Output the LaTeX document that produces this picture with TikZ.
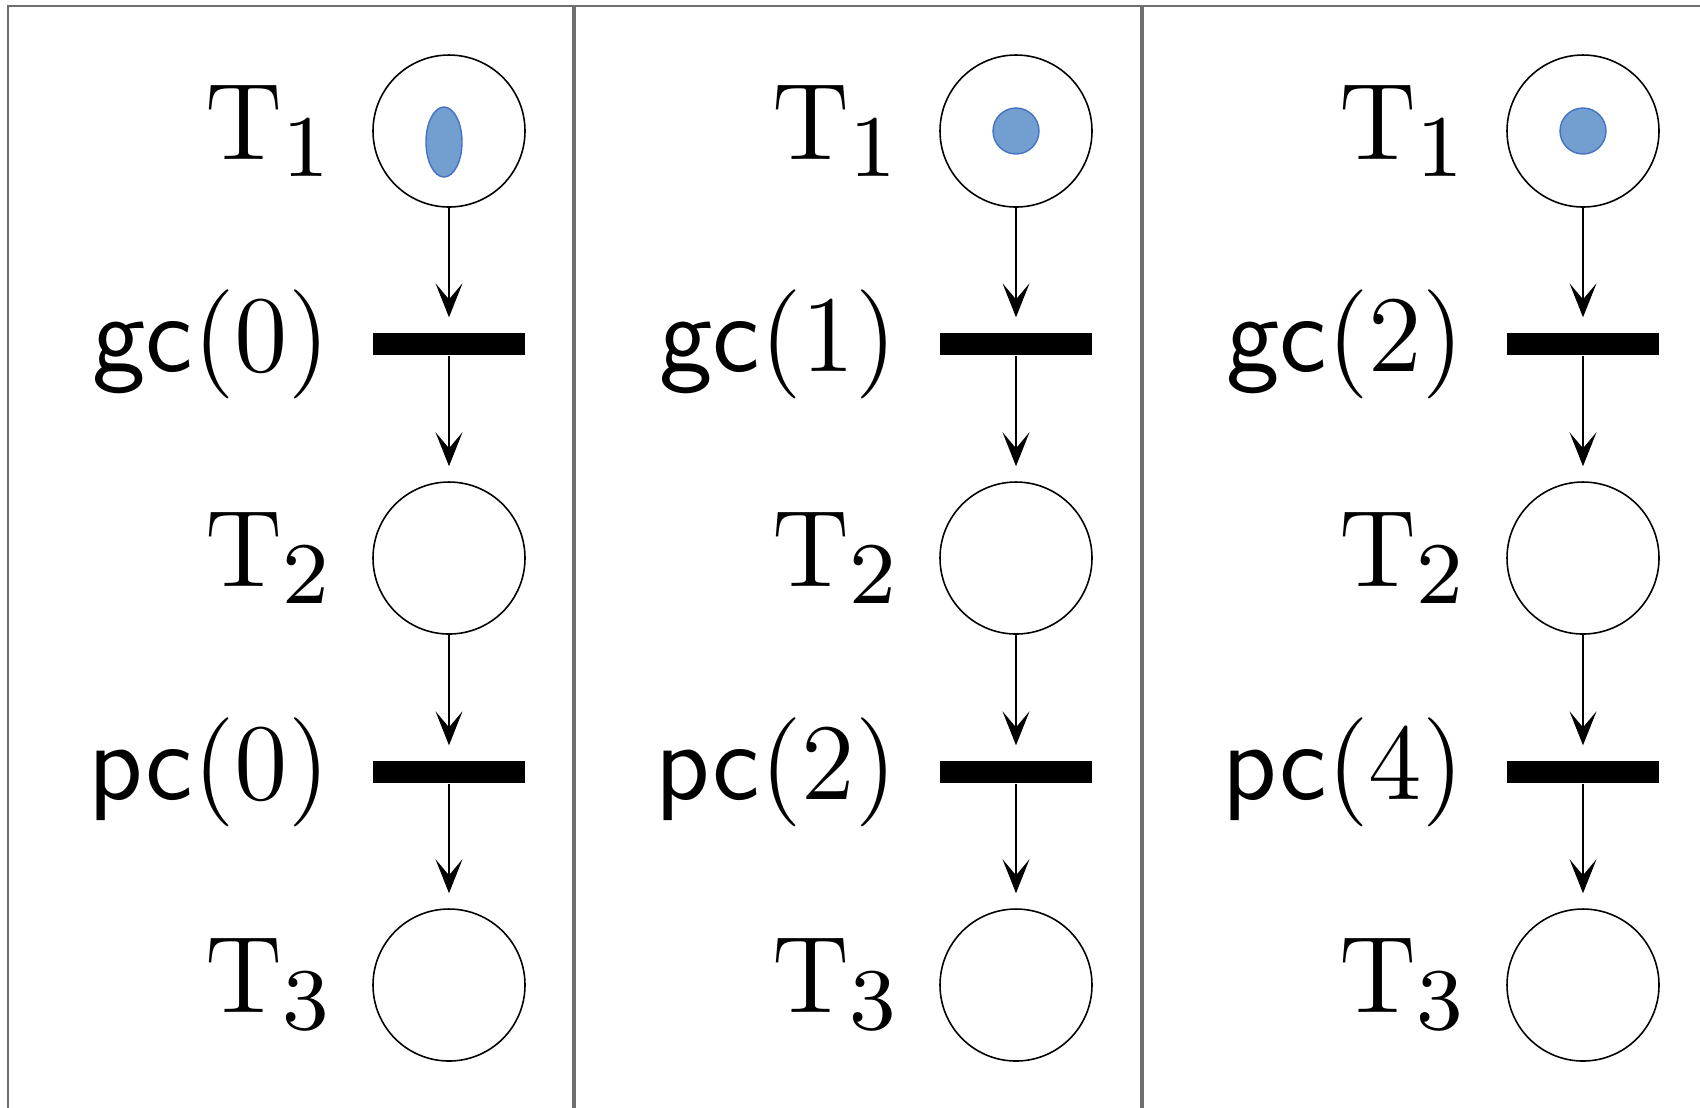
\documentclass[tikz,border=0pt]{standalone}
\usepackage{fontspec}
\usetikzlibrary{arrows.meta,positioning,shapes.geometric}
\newfontfamily\labelrm{lmroman12-regular.otf}
\newfontfamily\labelsf{lmsans12-regular.otf}
\newfontfamily\labelsub{lmroman8-regular.otf}
\newcommand{\tlab}[1]{T\raisebox{-0.15em}{\fontsize{25}{28}\labelsub #1}}
\definecolor{tokenblue}{RGB}{114,159,207}
\definecolor{tokenedge}{RGB}{68,114,196}
\definecolor{framegray}{RGB}{110,110,110}

\begin{document}
\begin{tikzpicture}[
    place/.style={draw=black, circle, line width=0.45pt, minimum size=1.52cm, inner sep=0pt},
    trans/.style={fill=black, rectangle, minimum width=1.52cm, minimum height=0.22cm, inner sep=0pt},
    lbl/.style={inner sep=0pt, font=\fontsize{31}{36}\labelrm},
    token/.style={fill=tokenblue, draw=tokenedge, line width=0.4pt},
    flow/.style={-{Stealth[length=0.34cm, width=0.27cm, inset=0.16cm]}, line width=0.45pt, shorten >=0.15cm},
    panel/.style={draw=framegray, line width=0.6pt}
]

\useasboundingbox (0,0) rectangle (17,-11.07);
\clip (0,0) rectangle (17,-11.07);

% Panel frames, cut off at the bottom and on the right
\draw[panel] (0.08,-0.06) rectangle (5.73,-12);
\draw[panel] (5.75,-0.06) rectangle (11.41,-12);
\draw[panel] (11.43,-0.06) rectangle (18,-12);

% Panel a
\node[place] (t1a) at (4.49, -1.31) {};
\node[trans] (gca) at (4.49, -3.44) {};
\node[place] (t2a) at (4.49, -5.58) {};
\node[trans] (pca) at (4.49, -7.72) {};
\node[place] (t3a) at (4.49, -9.85) {};
\node[lbl, left=0.42cm of t1a] (lt1a) {\tlab{1}};
\node[lbl, left=0.42cm of gca] (lgca) {{\labelsf gc}(0)};
\node[lbl, left=0.42cm of t2a] (lt2a) {\tlab{2}};
\node[lbl, left=0.42cm of pca] (lpca) {{\labelsf pc}(0)};
\node[lbl, left=0.42cm of t3a] (lt3a) {\tlab{3}};
\draw[token] ([shift={(-0.05,-0.11)}]t1a.center) ellipse (0.18 and 0.35);
\draw[flow] (t1a.south) -- (gca.north);
\draw[flow] (gca.south) -- (t2a.north);
\draw[flow] (t2a.south) -- (pca.north);
\draw[flow] (pca.south) -- (t3a.north);

% Panel b
\node[place] (t1b) at (10.16, -1.31) {};
\node[trans] (gcb) at (10.16, -3.44) {};
\node[place] (t2b) at (10.16, -5.58) {};
\node[trans] (pcb) at (10.16, -7.72) {};
\node[place] (t3b) at (10.16, -9.85) {};
\node[lbl, left=0.42cm of t1b] (lt1b) {\tlab{1}};
\node[lbl, left=0.42cm of gcb] (lgcb) {{\labelsf gc}(1)};
\node[lbl, left=0.42cm of t2b] (lt2b) {\tlab{2}};
\node[lbl, left=0.42cm of pcb] (lpcb) {{\labelsf pc}(2)};
\node[lbl, left=0.42cm of t3b] (lt3b) {\tlab{3}};
\draw[token] (t1b.center) circle (0.23);
\draw[flow] (t1b.south) -- (gcb.north);
\draw[flow] (gcb.south) -- (t2b.north);
\draw[flow] (t2b.south) -- (pcb.north);
\draw[flow] (pcb.south) -- (t3b.north);

% Panel c
\node[place] (t1c) at (15.83, -1.31) {};
\node[trans] (gcc) at (15.83, -3.44) {};
\node[place] (t2c) at (15.83, -5.58) {};
\node[trans] (pcc) at (15.83, -7.72) {};
\node[place] (t3c) at (15.83, -9.85) {};
\node[lbl, left=0.42cm of t1c] (lt1c) {\tlab{1}};
\node[lbl, left=0.42cm of gcc] (lgcc) {{\labelsf gc}(2)};
\node[lbl, left=0.42cm of t2c] (lt2c) {\tlab{2}};
\node[lbl, left=0.42cm of pcc] (lpcc) {{\labelsf pc}(4)};
\node[lbl, left=0.42cm of t3c] (lt3c) {\tlab{3}};
\draw[token] (t1c.center) circle (0.23);
\draw[flow] (t1c.south) -- (gcc.north);
\draw[flow] (gcc.south) -- (t2c.north);
\draw[flow] (t2c.south) -- (pcc.north);
\draw[flow] (pcc.south) -- (t3c.north);

\end{tikzpicture}
\end{document}
